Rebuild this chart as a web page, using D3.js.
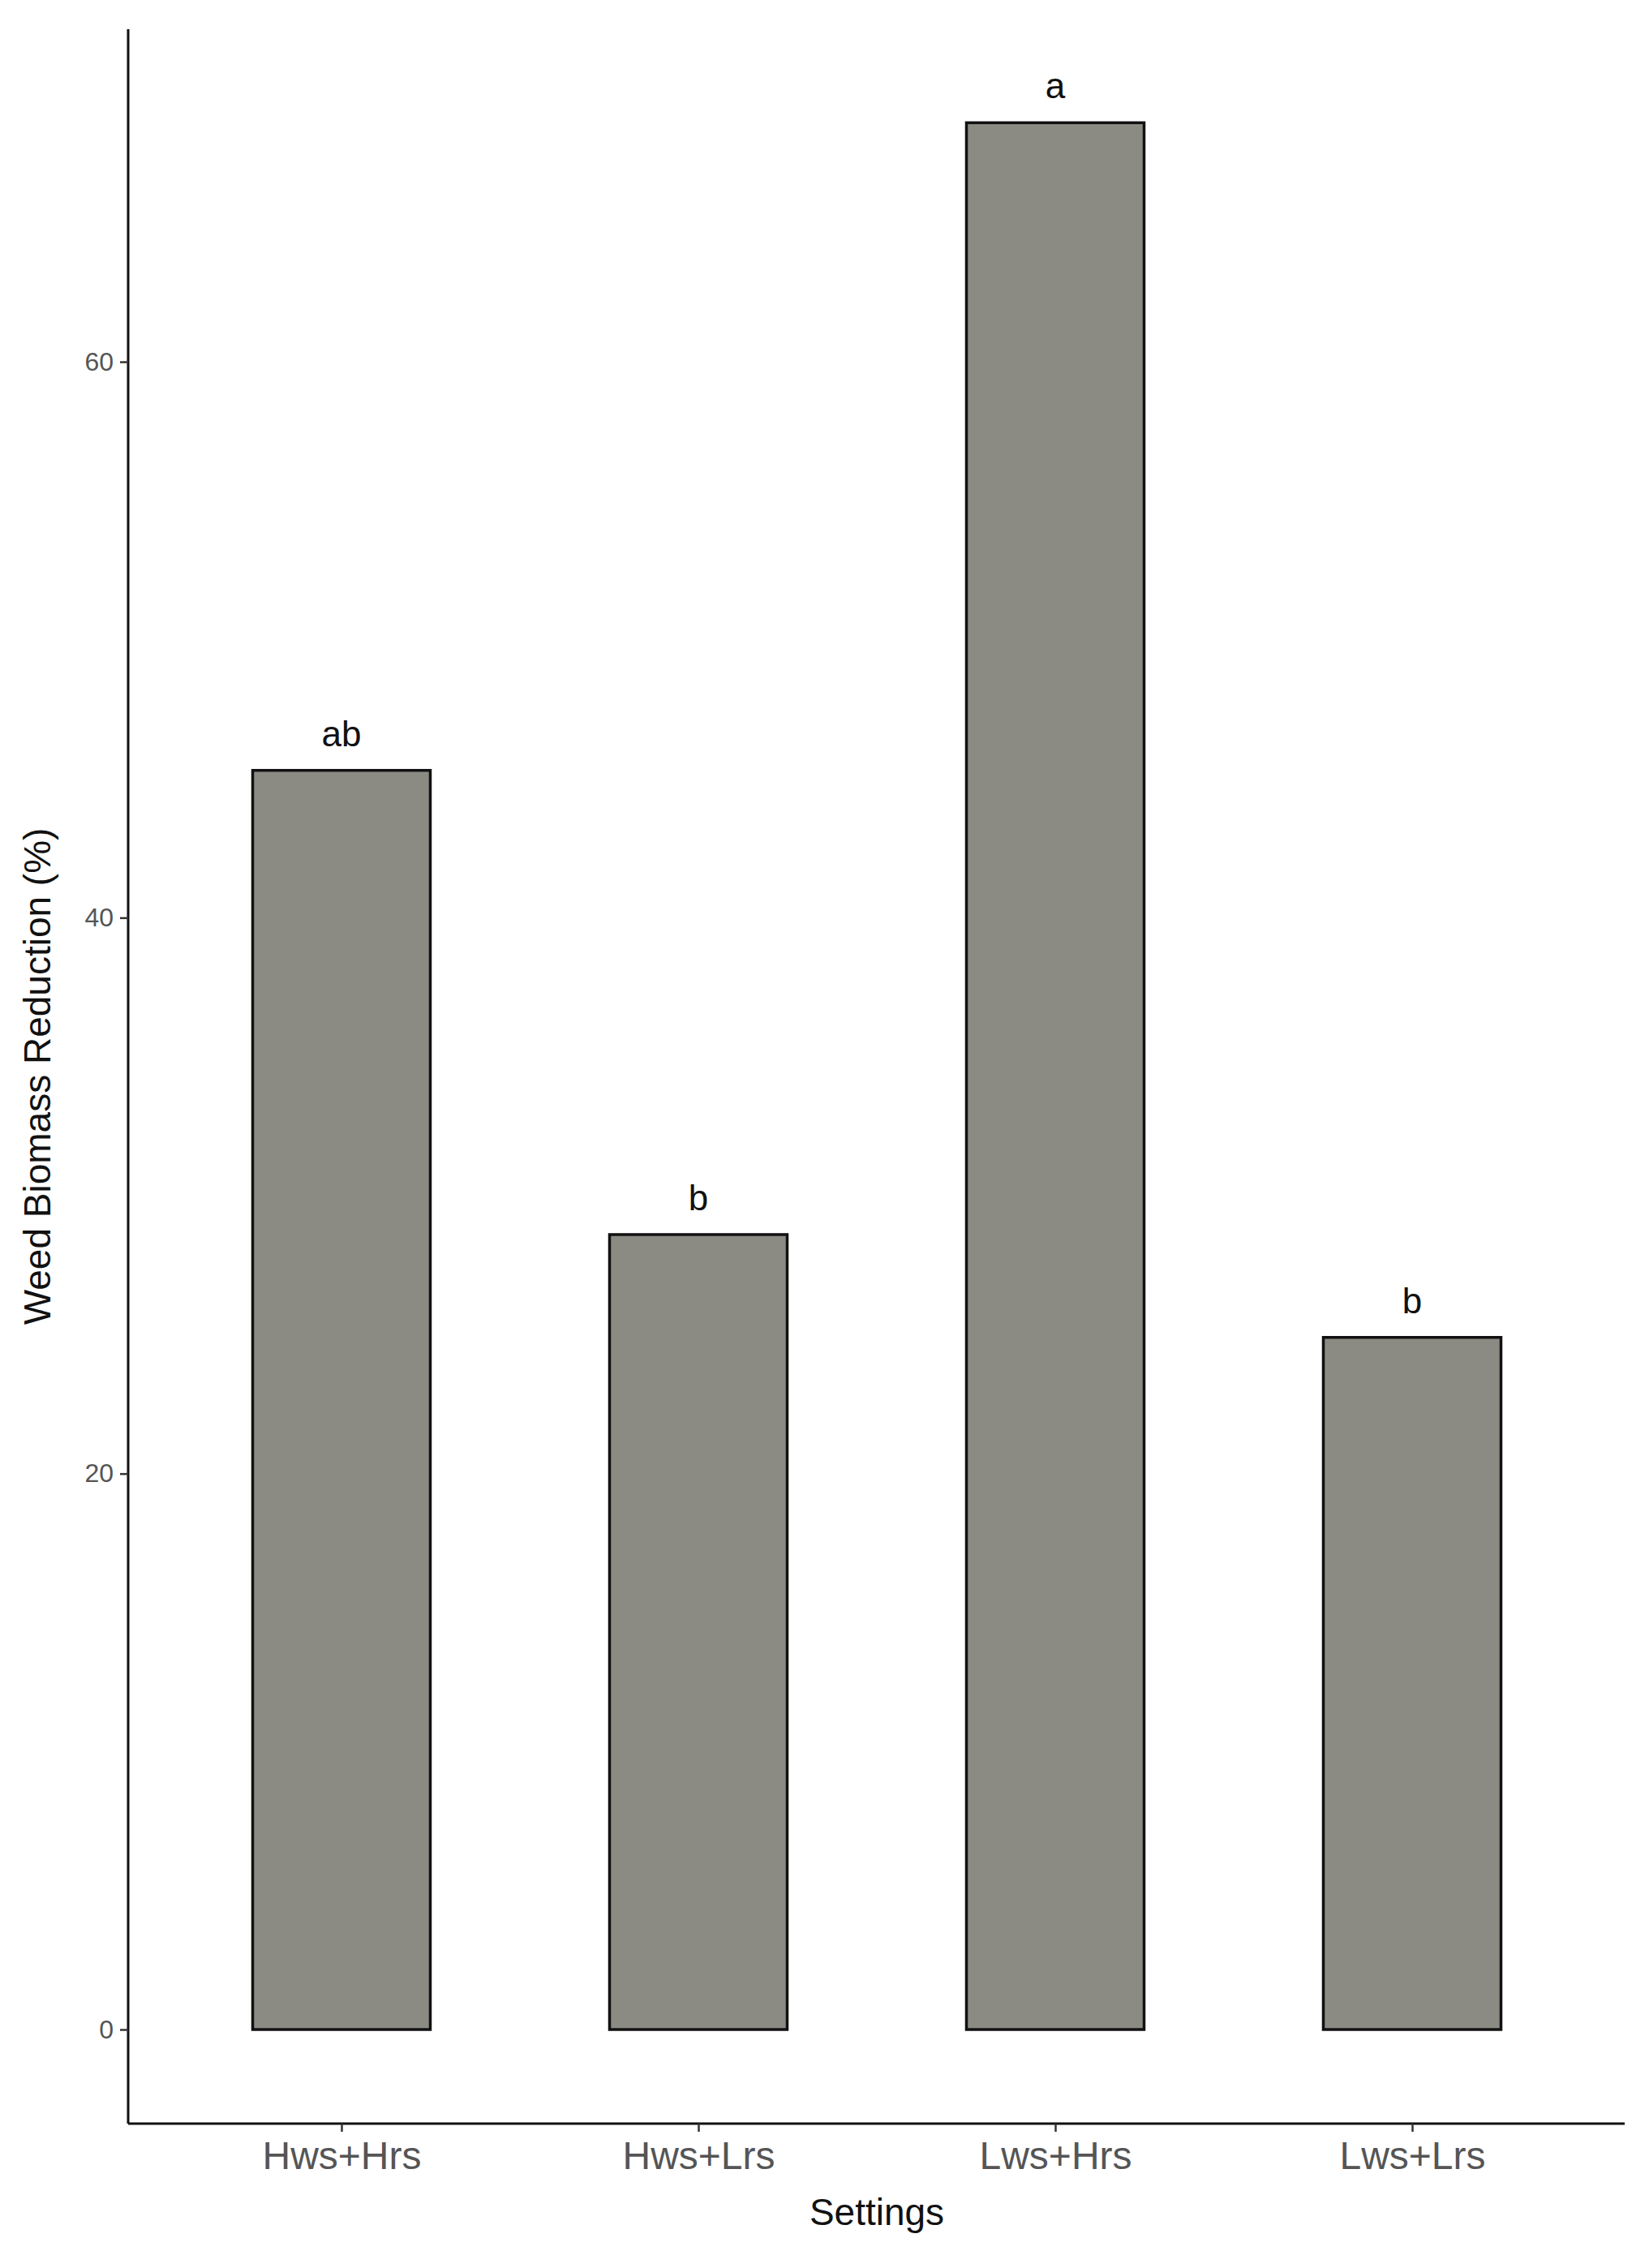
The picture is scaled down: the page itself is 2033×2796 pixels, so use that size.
<!DOCTYPE html><html><head><meta charset="utf-8"><script src="https://cdn.jsdelivr.net/npm/d3@7"></script>
<style>body{margin:0;background:#fff}</style></head><body><svg id="c" width="2033" height="2796"></svg>
<script>
const categories=["Hws+Hrs","Hws+Lrs","Lws+Hrs","Lws+Lrs"];
const values=[45.3,28.6,68.6,24.9];
const letters=["ab","b","a","b"];
const yTicks=[0,20,40,60];
const svg=d3.select("#c");
const font="Arial, Liberation Sans, sans-serif";
const y=d3.scaleLinear().domain([0,60]).range([2502,446]);
const x=d3.scalePoint().domain(categories).range([421,1741]);
const bw=219;
svg.selectAll("rect.bar").data(values).enter().append("rect")
 .attr("x",(d,i)=>x(categories[i])-bw/2).attr("width",bw)
 .attr("y",d=>y(d)).attr("height",d=>y(0)-y(d))
 .attr("fill","#8b8b83").attr("stroke","#111").attr("stroke-width",3.5);
svg.selectAll("text.lab").data(values).enter().append("text")
 .attr("x",(d,i)=>x(categories[i])).attr("y",d=>y(d)-30)
 .attr("text-anchor","middle").attr("font-family",font).attr("font-size",44).attr("fill","#111")
 .text((d,i)=>letters[i]);
const ya=svg.append("g").attr("transform","translate(158,0)")
 .call(d3.axisLeft(y).tickValues(yTicks).tickSize(10).tickPadding(8));
ya.select(".domain").attr("d","M0,36V2618").attr("stroke","#111").attr("stroke-width",3);
ya.selectAll(".tick line").attr("stroke","#333").attr("stroke-width",2.5);
ya.selectAll(".tick text").attr("font-family",font).attr("font-size",32).attr("fill","#555");
const xa=svg.append("g").attr("transform","translate(0,2618)")
 .call(d3.axisBottom(x).tickSize(10).tickPadding(12));
xa.select(".domain").attr("d","M158,0H2003").attr("stroke","#111").attr("stroke-width",3);
xa.selectAll(".tick line").attr("stroke","#333").attr("stroke-width",2.5);
xa.selectAll(".tick text").attr("font-family",font).attr("font-size",48).attr("fill","#555");
svg.append("text").attr("x",1081).attr("y",2743).attr("text-anchor","middle")
 .attr("font-family",font).attr("font-size",46).attr("fill","#111").text("Settings");
svg.append("text").attr("transform","translate(62,1327) rotate(-90)").attr("text-anchor","middle")
 .attr("font-family",font).attr("font-size",46).attr("fill","#111").text("Weed Biomass Reduction (%)");
</script></body></html>
